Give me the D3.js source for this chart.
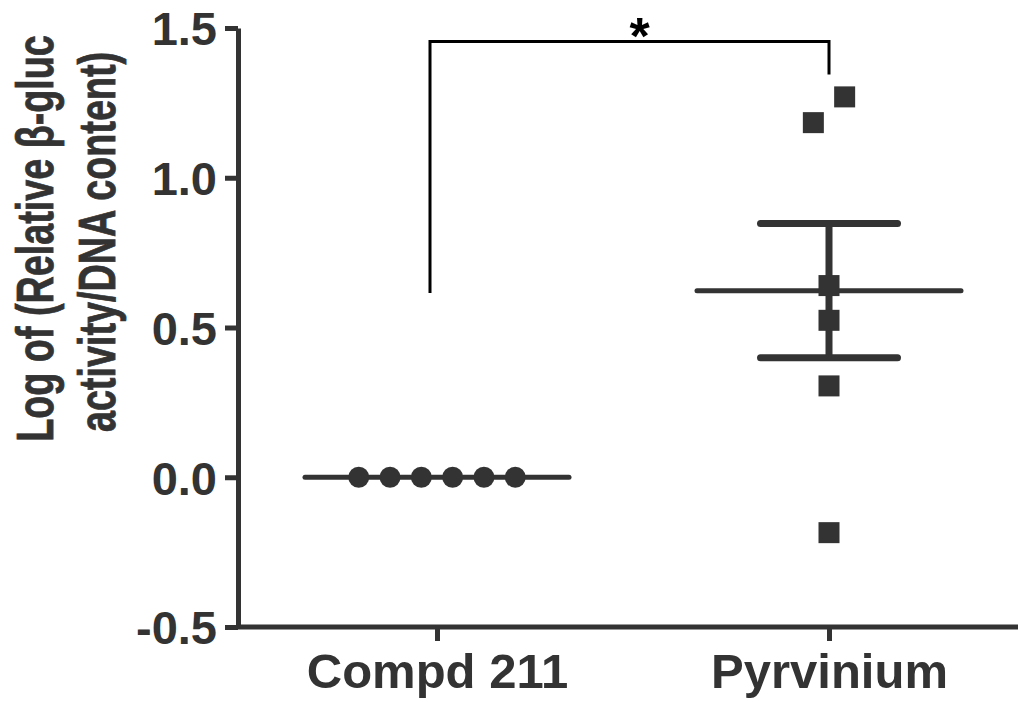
<!DOCTYPE html>
<html>
<head>
<meta charset="utf-8">
<script src="https://cdn.jsdelivr.net/npm/d3@7"></script>
<style>
  body { margin: 0; background: #fff; }
  text { font-family: "Liberation Sans", Arial, sans-serif; font-weight: bold; fill: #333; }
</style>
</head>
<body>
<div id="graph"></div>
<script>
// values
var groups = ["Compd 211", "Pyrvinium"];
var compdValues = [0, 0, 0, 0, 0, 0];
var pyrvValues = [1.270, 1.184, 0.640, 0.524, 0.305, -0.185];
var groupMeans = [0, 0.623];
var groupSems = [0, 0.224];
var yTicks = [-0.5, 0.0, 0.5, 1.0, 1.5];
var titleLines = ["Log of (Relative \u03b2-gluc", "activity/DNA content)"];
var bracket = { y: 1.455, leftEnd: 0.615, rightEnd: 1.345, label: "*" };

window.onload = start;

function start() {
    var width = 1018;
    var height = 702;
    var ink = "#333";

    var svg = d3.select("#graph")
        .append("svg")
        .attr("width", width)
        .attr("height", height);

    var xScale = d3.scalePoint().domain(groups).range([437, 829]);
    var yScale = d3.scaleLinear().domain([-0.5, 1.5]).range([627, 28]);

    // y axis (plain hyphen for negatives, like the original)
    var yAxis = d3.axisLeft(yScale)
        .tickValues(yTicks)
        .tickFormat(function(d) { return d.toFixed(1); })
        .tickSize(13)
        .tickSizeOuter(0)
        .tickPadding(8);

    var gy = svg.append("g")
        .attr("transform", "translate(238,0)")
        .call(yAxis);
    gy.select(".domain").attr("stroke", ink).attr("stroke-width", 5);
    gy.selectAll(".tick line").attr("stroke", ink).attr("stroke-width", 5);
    gy.selectAll(".tick text")
        .attr("fill", ink)
        .style("font-size", "47px")
        .attr("dy", "0.36em");

    // x axis
    var xAxis = d3.axisBottom(xScale).tickSize(14).tickSizeOuter(0).tickPadding(12);
    var gx = svg.append("g")
        .attr("transform", "translate(0,627)")
        .call(xAxis);
    gx.select(".domain")
        .attr("d", "M238,0H1018")
        .attr("stroke", ink).attr("stroke-width", 5);
    gx.selectAll(".tick line").attr("stroke", ink).attr("stroke-width", 5);
    gx.selectAll(".tick text")
        .attr("fill", ink)
        .style("font-size", "49px")
        .attr("dy", "0.71em");

    // y axis title: two lines of condensed lettering
    var titlePos = [{ x: 53, y: 238.5 }, { x: 115, y: 242 }];
    svg.append("g").selectAll("text")
        .data(titleLines)
        .enter().append("text")
        .attr("transform", function(d, i) {
            return "translate(" + titlePos[i].x + "," + titlePos[i].y + ") rotate(-90) scale(0.74,1)";
        })
        .attr("text-anchor", "middle")
        .style("font-size", "51px")
        .attr("stroke", ink)
        .attr("stroke-width", 0.8)
        .text(function(d) { return d; });

    // spread points that sit close together, like a dot plot
    var step = 31.3;
    function dodge(values) {
        var pts = values.map(function(v, i) { return { v: v, i: i }; })
            .sort(function(a, b) { return a.v - b.v; });
        var clusters = [];
        pts.forEach(function(p) {
            var last = clusters[clusters.length - 1];
            if (last && Math.abs(yScale(p.v) - yScale(last[last.length - 1].v)) < 30) {
                last.push(p);
            } else {
                clusters.push([p]);
            }
        });
        var out = [];
        clusters.forEach(function(c) {
            c.forEach(function(p, k) {
                out.push({ v: p.v, dx: (k - (c.length - 1) / 2) * step });
            });
        });
        return out;
    }

    var lineW = 132;
    var capW = 68.5;

    // mean lines and SEM
    var stats = groups.map(function(g, i) {
        return { g: g, mean: groupMeans[i], sem: groupSems[i] };
    });

    svg.append("g").selectAll("line")
        .data(stats)
        .enter().append("line")
        .attr("x1", function(d) { return xScale(d.g) - lineW; })
        .attr("x2", function(d) { return xScale(d.g) + lineW; })
        .attr("y1", function(d) { return yScale(d.mean); })
        .attr("y2", function(d) { return yScale(d.mean); })
        .attr("stroke", ink).attr("stroke-width", 5).attr("stroke-linecap", "round");

    var semData = stats.filter(function(d) { return d.sem > 0; });
    var sem = svg.append("g");
    sem.selectAll(".stem")
        .data(semData)
        .enter().append("line")
        .attr("x1", function(d) { return xScale(d.g); })
        .attr("x2", function(d) { return xScale(d.g); })
        .attr("y1", function(d) { return yScale(d.mean + d.sem); })
        .attr("y2", function(d) { return yScale(d.mean - d.sem); })
        .attr("stroke", ink).attr("stroke-width", 7);
    [1, -1].forEach(function(s) {
        sem.selectAll(".cap" + s)
            .data(semData)
            .enter().append("line")
            .attr("x1", function(d) { return xScale(d.g) - capW; })
            .attr("x2", function(d) { return xScale(d.g) + capW; })
            .attr("y1", function(d) { return yScale(d.mean + s * d.sem); })
            .attr("y2", function(d) { return yScale(d.mean + s * d.sem); })
            .attr("stroke", ink).attr("stroke-width", 7).attr("stroke-linecap", "round");
    });

    // circles for Compd 211
    svg.append("g").selectAll("circle")
        .data(dodge(compdValues))
        .enter().append("circle")
        .attr("cx", function(d) { return xScale(groups[0]) + d.dx; })
        .attr("cy", function(d) { return yScale(d.v); })
        .attr("r", 10.5)
        .attr("fill", ink);

    // squares for Pyrvinium
    var sq = 21;
    svg.append("g").selectAll("rect")
        .data(dodge(pyrvValues))
        .enter().append("rect")
        .attr("x", function(d) { return xScale(groups[1]) + d.dx - sq / 2; })
        .attr("y", function(d) { return yScale(d.v) - sq / 2; })
        .attr("width", sq).attr("height", sq)
        .attr("fill", ink);

    // significance bracket
    var bx1 = xScale(groups[0]) - 7;
    var bx2 = xScale(groups[1]);
    svg.append("path")
        .attr("d", "M" + bx1 + "," + yScale(bracket.leftEnd) +
                   "V" + yScale(bracket.y) +
                   "H" + bx2 +
                   "V" + yScale(bracket.rightEnd))
        .attr("fill", "none")
        .attr("stroke", "#000")
        .attr("stroke-width", 3);
    svg.append("text")
        .attr("x", (bx1 + bx2) / 2 + 10)
        .attr("y", yScale(bracket.y) + 13)
        .attr("text-anchor", "middle")
        .style("font-size", "52px")
        .style("fill", "#000")
        .text(bracket.label);
}
</script>
</body>
</html>
